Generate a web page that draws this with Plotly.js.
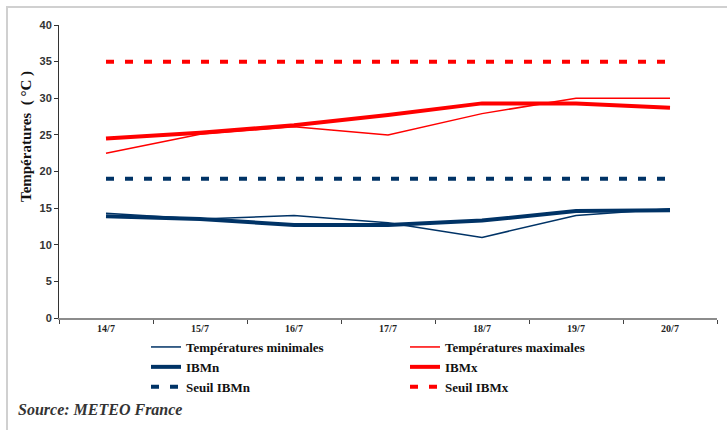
<!DOCTYPE html>
<html>
<head>
<meta charset="utf-8">
<script src="https://cdn.plot.ly/plotly-3.0.1.min.js"></script>
<style>
  html, body { margin: 0; padding: 0; background: #fff; }
  #frame { position: absolute; left: 6px; top: 6px; width: 721px; height: 424px;
           border-top: 2px solid #d0d0d0; border-left: 2px solid #d0d0d0; box-sizing: border-box; }
  #chart { position: absolute; left: 0; top: 0; width: 727px; height: 430px; }
</style>
</head>
<body>
<div id="frame"></div>
<div id="chart"></div>
<script>
const categories = ["14/7", "15/7", "16/7", "17/7", "18/7", "19/7", "20/7"];
const tempMin   = [14.3, 13.5, 14.0, 13.0, 11.0, 14.0, 14.9];
const tempMax   = [22.5, 25.1, 26.1, 25.0, 27.9, 30.0, 30.0];
const ibmn      = [13.9, 13.5, 12.7, 12.7, 13.3, 14.6, 14.7];
const ibmx      = [24.5, 25.3, 26.3, 27.7, 29.3, 29.3, 28.7];
const seuilIBMn = [19, 19, 19, 19, 19, 19, 19];
const seuilIBMx = [35, 35, 35, 35, 35, 35, 35];
const yTicks    = [0, 5, 10, 15, 20, 25, 30, 35, 40];

const NAVY = "#003366", RED = "#ff0000";
const serif = "Liberation Serif, Times New Roman, serif";

function tr(name, y, color, width, dash) {
  return { type: "scatter", mode: "lines", name: name, x: categories, y: y,
           line: { color: color, width: width, dash: dash || "solid" }, hoverinfo: "skip" };
}

const data = [
  tr("Températures minimales", tempMin, NAVY, 1.5),
  tr("Températures maximales", tempMax, RED, 1.5),
  tr("IBMn", ibmn, NAVY, 4),
  tr("IBMx", ibmx, RED, 4),
  tr("Seuil IBMn", seuilIBMn, NAVY, 4, "8px,11px"),
  tr("Seuil IBMx", seuilIBMx, RED, 4, "8px,11px")
];

const layout = {
  width: 727, height: 430,
  margin: { l: 59, r: 10, t: 25, b: 112, autoexpand: false },
  paper_bgcolor: "rgba(0,0,0,0)", plot_bgcolor: "rgba(0,0,0,0)",
  showlegend: true,
  xaxis: {
    type: "category", range: [-0.5, 6.5],
    showline: true, linecolor: "#8c8c8c", linewidth: 1.5,
    ticks: "outside", tickson: "boundaries", ticklen: 4, tickcolor: "#444", tickwidth: 1,
    showgrid: false, zeroline: false,
    tickfont: { family: serif, size: 10, color: "#222", weight: "bold" },
    fixedrange: true
  },
  yaxis: {
    range: [0, 40], tickvals: yTicks, ticktext: yTicks.map(String),
    showline: true, linecolor: "#333", linewidth: 1,
    ticks: "outside", ticklen: 4, tickcolor: "#333",
    showgrid: false, zeroline: false,
    tickfont: { family: "Liberation Sans, Arial, sans-serif", size: 11, color: "#333", weight: "bold" },
    fixedrange: true
  },
  legend: {
    orientation: "h", x: (146 - 59) / 658, xanchor: "left",
    y: (318 - 332) / 293, yanchor: "top",
    entrywidth: 214, entrywidthmode: "pixels",
    traceorder: "normal",
    font: { family: serif, size: 13, color: "#111", weight: "bold" },
    bgcolor: "rgba(0,0,0,0)"
  },
  annotations: [
    { text: "Températures  ( °C )", textangle: -90, xref: "paper", yref: "paper",
      x: (26 - 59) / 658, y: (318 - 137) / 293, xanchor: "center", yanchor: "middle",
      showarrow: false, font: { family: serif, size: 15, color: "#111", weight: "bold" } },
    { text: "<i>Source: METEO France</i>", xref: "paper", yref: "paper",
      x: (16 - 59) / 658, y: (318 - 409) / 293, xanchor: "left", yanchor: "middle",
      showarrow: false, font: { family: serif, size: 16, color: "#333", weight: "bold" } }
  ]
};

Plotly.newPlot("chart", data, layout, { displayModeBar: false, staticPlot: true });
</script>
</body>
</html>
